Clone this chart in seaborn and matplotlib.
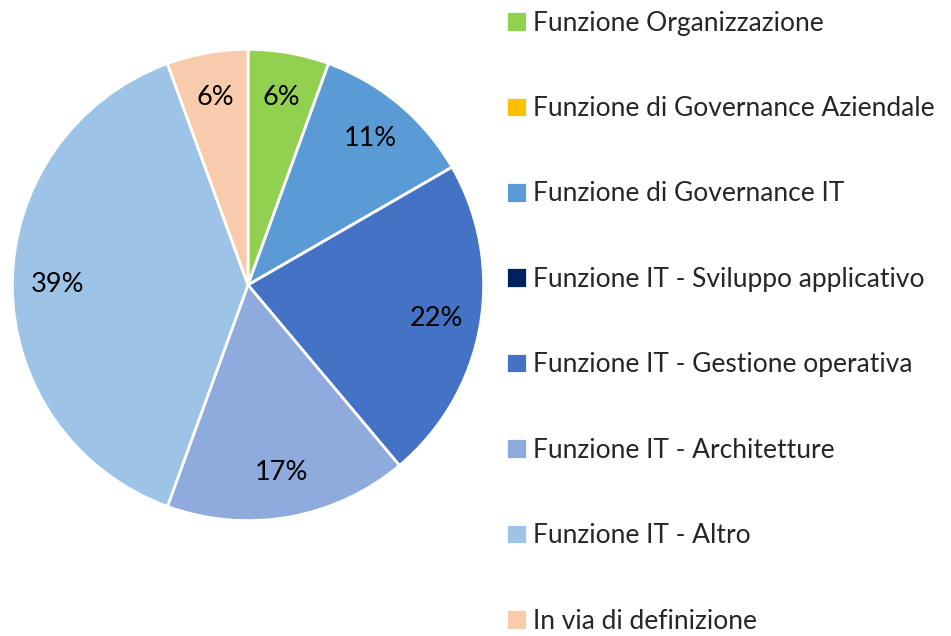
import matplotlib
matplotlib.use('Agg')
import matplotlib.pyplot as plt
import seaborn as sns

# Dati (conteggi per funzione)
categorie = ['Funzione Organizzazione', 'Funzione di Governance Aziendale',
             'Funzione di Governance IT', 'Funzione IT - Sviluppo applicativo',
             'Funzione IT - Gestione operativa', 'Funzione IT - Architetture',
             'Funzione IT - Altro', 'In via di definizione']
conteggi = [1, 0, 2, 0, 4, 3, 7, 1]
colori = ['#92D050', '#FFC000', '#5B9BD5', '#002060',
          '#4472C4', '#8FAADC', '#9DC3E6', '#F8CBAD']

sns.set_theme(style="white")
plt.rcParams['font.family'] = ['Lato', 'DejaVu Sans']

fig = plt.figure(figsize=(9.51, 6.36), dpi=100)
cx, cy, r = 248, 285, 238
ax = fig.add_axes([(cx - r) / 951, (636 - cy - r) / 636, 2 * r / 951, 2 * r / 636])


def etichetta(p):
    return f'{p:.0f}%' if p > 0 else ''


wedges, testi, autotesti = ax.pie(conteggi, colors=colori, startangle=90, counterclock=False,
                                  autopct=etichetta, pctdistance=0.81, radius=1,
                                  wedgeprops=dict(edgecolor='white', linewidth=2),
                                  textprops=dict(fontsize=19.5, color='black'))
ax.set_xlim(-1.01, 1.01)
ax.set_ylim(-1.01, 1.01)
ax.set_aspect('auto')
ax.axis('off')

fig.legend(wedges, categorie, loc='upper left', bbox_to_anchor=(495 / 951, 1 - 0 / 636),
           frameon=False, fontsize=19, labelspacing=2.29, handlelength=0.82, handleheight=0.82,
           handletextpad=0.22, borderaxespad=0)

fig.savefig('out.png', dpi=100)
